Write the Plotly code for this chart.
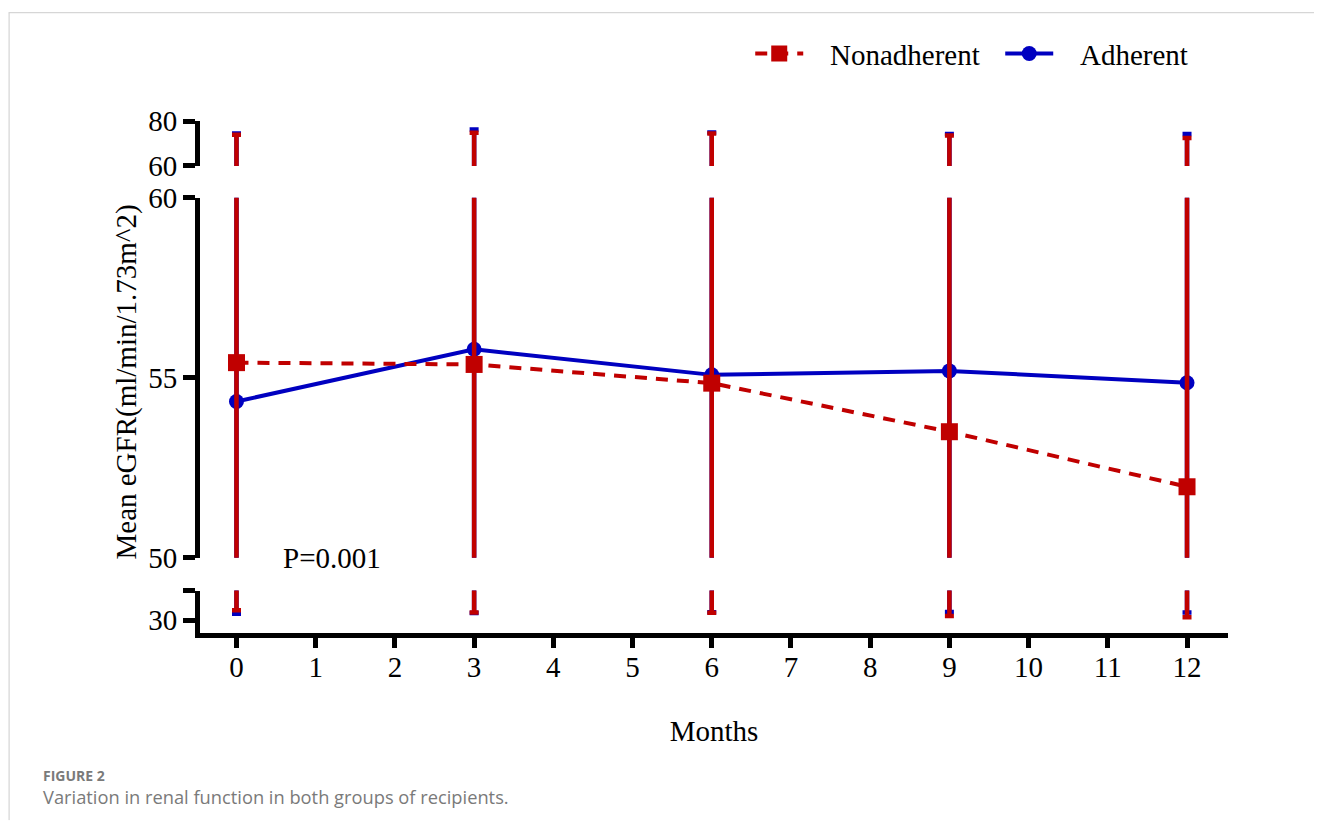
import plotly.graph_objects as go

# ---------------- data ----------------
months = [0, 3, 6, 9, 12]
x_ticks = list(range(0, 13))

nonadherent_mean = [55.42, 55.37, 54.85, 53.50, 51.97]
nonadherent_upper = [73.9, 74.8, 74.4, 73.5, 72.4]
nonadherent_lower = [34.3, 33.4, 33.2, 31.8, 31.2]

adherent_mean = [54.34, 55.79, 55.08, 55.19, 54.86]
adherent_upper = [74.4, 76.2, 74.9, 74.2, 74.2]
adherent_lower = [32.8, 33.1, 33.5, 33.6, 33.3]

top_ticks = [60, 80]
mid_ticks = [50, 55, 60]
bottom_ticks = [30]

RED = "#C00000"
BLUE = "#0000C0"
FONT = "Liberation Serif"
FS = 29
NBSP = "\u00a0"

# ---------------- geometry (reference-page pixels) ----------------
OFF = 8                      # page body margin of the html page
PAGE_W, PAGE_H = 1322, 821
W, H = PAGE_W - OFF, PAGE_H - OFF
PLOT_L, PLOT_R, PLOT_T, PLOT_B = 199.5, 1228, 120.5, 633.5   # page coords
L = PLOT_L - OFF
R = PAGE_W - PLOT_R
T = PLOT_T - OFF
B = H - (PLOT_B - OFF)
PW = W - L - R
PH = H - T - B


def py2paper(py):
    return (PLOT_B - py) / PH


def px2paper(px):
    return (px - PLOT_L) / PW


top_dom = [py2paper(165.5), 1.0]
mid_dom = [py2paper(558), py2paper(197.5)]
bot_dom = [0.0, py2paper(591)]
bot_range = [24.22, 43.11]
x_range = [(PLOT_L - 236) / 79.25, (PLOT_R - 236) / 79.25]


def err(mean, upper, lower):
    return dict(type="data", symmetric=False,
                array=[u - m for u, m in zip(upper, mean)],
                arrayminus=[m - l for m, l in zip(mean, lower)])


fig = go.Figure()

series = [
    ("Adherent", adherent_mean, adherent_upper, adherent_lower, BLUE,
     "solid", "circle", 15, 2),
    ("Nonadherent", nonadherent_mean, nonadherent_upper, nonadherent_lower, RED,
     "12px,9px", "square", 17, 1),
]

for name, mean, up, lo, col, dash, sym, msize, rank in series:
    e = err(mean, up, lo)
    for yax in ["y", "y3"]:
        fig.add_trace(go.Scatter(
            x=months, y=mean, yaxis=yax, mode="markers",
            marker=dict(size=1, color="rgba(0,0,0,0)"),
            error_y=dict(**e, color=col, thickness=4.5, width=4.5),
            showlegend=False, hoverinfo="skip"))
    fig.add_trace(go.Scatter(
        x=months, y=mean, yaxis="y2", mode="lines+markers",
        name=NBSP * 3 + name,
        line=dict(color=col, width=4, dash=dash),
        marker=dict(symbol=sym, size=msize, color=col),
        error_y=dict(**e, color=col, thickness=4.5, width=4.5),
        legendrank=rank))

axis_common = dict(showline=True, linewidth=5, linecolor="black",
                   ticks="outside", ticklen=12, tickwidth=5, tickcolor="black",
                   showgrid=False, zeroline=False,
                   tickfont=dict(family=FONT, size=FS, color="black"),
                   anchor="x", fixedrange=True)
cap_common = dict(showline=False, ticks="inside", ticklen=10, tickwidth=5,
                  tickcolor="black", showticklabels=False, showgrid=False,
                  zeroline=False, anchor="x", fixedrange=True)

fig.update_layout(
    width=W, height=H,
    margin=dict(l=L, r=R, t=T, b=B, autoexpand=False),
    paper_bgcolor="white", plot_bgcolor="white",
    xaxis=dict(range=x_range, tickmode="array", tickvals=x_ticks,
               showline=True, linewidth=5, linecolor="black",
               ticks="outside", ticklen=10, tickwidth=5, tickcolor="black",
               ticklabelstandoff=-6,
               showgrid=False, zeroline=False,
               tickfont=dict(family=FONT, size=FS, color="black"),
               title=dict(text="Months", font=dict(family=FONT, size=FS, color="black"),
                          standoff=40),
               anchor="y", fixedrange=True),
    yaxis=dict(domain=bot_dom, range=bot_range, tickmode="array",
               tickvals=bottom_ticks + [bot_range[1]],
               ticktext=[str(v) for v in bottom_ticks] + [""], **axis_common),
    yaxis2=dict(domain=mid_dom, range=[50, 60], tickmode="array",
                tickvals=mid_ticks, **axis_common),
    yaxis3=dict(domain=top_dom, range=[60, 80], tickmode="array",
                tickvals=top_ticks, **axis_common),
    yaxis4=dict(overlaying="y3", range=[60, 80], tickmode="array",
                tickvals=[60], **cap_common),
    yaxis5=dict(overlaying="y2", range=[50, 60], tickmode="array",
                tickvals=[50, 60], **cap_common),
    yaxis6=dict(overlaying="y", range=bot_range, tickmode="array",
                tickvals=[bot_range[1]], **cap_common),
    legend=dict(orientation="h", x=px2paper(750), xanchor="left",
                y=py2paper(53), yanchor="middle",
                font=dict(family=FONT, size=FS, color="black"),
                itemwidth=48, entrywidth=187, entrywidthmode="pixels",
                bgcolor="rgba(0,0,0,0)"),
    showlegend=True,
)

# y-axis title
fig.add_annotation(x=px2paper(126), y=py2paper(382), xref="paper", yref="paper",
                   text="Mean eGFR(ml/min/1.73m^2)", textangle=-90, showarrow=False,
                   font=dict(family=FONT, size=FS, color="black"),
                   xanchor="center", yanchor="middle")

fig.add_annotation(x=1.2, y=50.0, xref="x", yref="y2", text="P=0.001",
                   showarrow=False, font=dict(family=FONT, size=FS, color="black"),
                   xanchor="center", yanchor="middle")

fig.add_annotation(x=px2paper(40), y=py2paper(776), xref="paper", yref="paper",
                   text="<b>FIGURE 2</b>", showarrow=False, xanchor="left",
                   yanchor="middle",
                   font=dict(family="Open Sans", size=14, color="#7a7a7a"))
fig.add_annotation(x=px2paper(40), y=py2paper(797), xref="paper", yref="paper",
                   text="Variation in renal function in both groups of recipients.",
                   showarrow=False, xanchor="left", yanchor="middle",
                   font=dict(family="Open Sans", size=18.3, color="#7a7a7a"))

# page frame lines
fig.add_shape(type="line", xref="paper", yref="paper",
              x0=px2paper(8), x1=px2paper(PAGE_W), y0=py2paper(12), y1=py2paper(12),
              line=dict(color="#cccccc", width=1))
fig.add_shape(type="line", xref="paper", yref="paper",
              x0=px2paper(8.5), x1=px2paper(8.5), y0=py2paper(12), y1=py2paper(PAGE_H),
              line=dict(color="#cccccc", width=1))

fig.write_html("out.html")
